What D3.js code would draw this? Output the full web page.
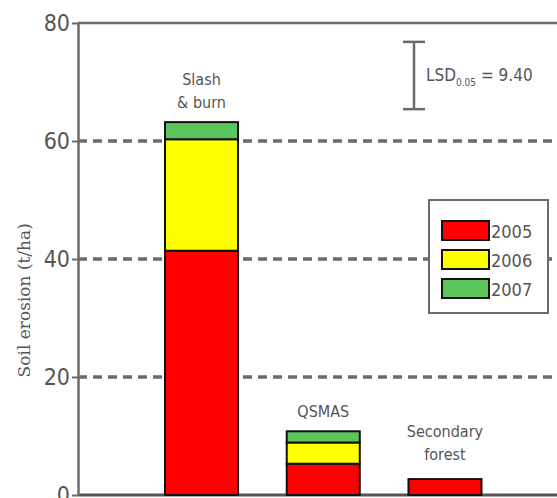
<!DOCTYPE html>
<html>
<head>
<meta charset="utf-8">
<script src="https://cdn.jsdelivr.net/npm/d3@7"></script>
<style>
  body { margin: 0; background: #fff; }
  svg { display: block; }
</style>
</head>
<body>
<div id="chart"></div>
<script>
// values
var systems = ["Slash & burn", "QSMAS", "Secondary forest"];
var years = ["2005", "2006", "2007"];
var erosion2005 = [41.4, 5.3, 2.7];
var erosion2006 = [18.9, 3.6, 0];
var erosion2007 = [2.9, 1.9, 0];
var yTicks = [0, 20, 40, 60, 80];
var lsd = 9.40;

var colors = ["#ff0000", "#ffff00", "#5cc65c"];
var narrow = '"DejaVu Sans Condensed", "Liberation Sans Narrow", sans-serif';

var width = 557, height = 498;
var margin = {top: 23, right: 0, bottom: 3, left: 78};

var svg = d3.select('#chart')
    .append('svg')
    .attr('width', width)
    .attr('height', height);

var x = d3.scaleBand()
    .domain(systems)
    .range([165, 481.5])
    .paddingInner(0.4)
    .paddingOuter(0);

var y = d3.scaleLinear()
    .domain([0, 80])
    .range([height - margin.bottom, margin.top]);

var rows = systems.map(function (s, i) {
    return {system: s, "2005": erosion2005[i], "2006": erosion2006[i], "2007": erosion2007[i]};
});
var stacked = d3.stack().keys(years)(rows);

// dashed grid lines
svg.append('g')
    .selectAll('line')
    .data([20, 40, 60])
    .enter()
    .append('line')
    .attr('x1', margin.left)
    .attr('x2', width)
    .attr('y1', function (d) { return y(d); })
    .attr('y2', function (d) { return y(d); })
    .attr('stroke', '#6b6b6b')
    .attr('stroke-width', 3.5)
    .attr('stroke-dasharray', '9,6');

// top frame line
svg.append('line')
    .attr('x1', margin.left).attr('x2', width)
    .attr('y1', y(80)).attr('y2', y(80))
    .attr('stroke', '#6b6b6b').attr('stroke-width', 2.5);

// bottom line
svg.append('line')
    .attr('x1', margin.left).attr('x2', width)
    .attr('y1', y(0)).attr('y2', y(0))
    .attr('stroke', '#555').attr('stroke-width', 3);

// y axis
var yAxis = svg.append('g')
    .attr('transform', 'translate(' + margin.left + ',0)')
    .call(d3.axisLeft(y).tickValues(yTicks).tickSize(6).tickSizeOuter(0));
yAxis.select('.domain').attr('stroke', '#6b6b6b').attr('stroke-width', 2.5);
yAxis.selectAll('.tick line').attr('stroke', '#6b6b6b').attr('stroke-width', 2);
yAxis.selectAll('.tick text')
    .attr('x', -8)
    .attr('fill', '#555')
    .style('font-family', narrow)
    .style('font-size', '23px');

svg.append('text')
    .attr('transform', 'translate(30,' + y(33) + ') rotate(-90)')
    .attr('text-anchor', 'middle')
    .attr('fill', '#555')
    .style('font-family', '"DejaVu Serif", serif')
    .style('font-size', '17px')
    .text('Soil erosion (t/ha)');

// stacked bars
svg.append('g')
    .selectAll('g')
    .data(stacked)
    .enter()
    .append('g')
    .attr('fill', function (d, i) { return colors[i]; })
    .selectAll('rect')
    .data(function (d) { return d.filter(function (p) { return p[1] > p[0]; }); })
    .enter()
    .append('rect')
    .attr('x', function (d) { return x(d.data.system); })
    .attr('width', x.bandwidth())
    .attr('y', function (d) { return y(d[1]); })
    .attr('height', function (d) { return y(d[0]) - y(d[1]); })
    .attr('stroke', '#111')
    .attr('stroke-width', 2);

// bar labels
var labelLines = [["Slash", "& burn"], ["QSMAS"], ["Secondary", "forest"]];
var totals = systems.map(function (s, i) { return erosion2005[i] + erosion2006[i] + erosion2007[i]; });
svg.append('g')
    .selectAll('text')
    .data(systems)
    .enter()
    .append('text')
    .attr('text-anchor', 'middle')
    .attr('fill', '#555')
    .style('font-family', narrow)
    .style('font-size', '16px')
    .each(function (s, i) {
        var lines = labelLines[i];
        var base = y(totals[i]) - 14 - (lines.length - 1) * 23;
        var t = d3.select(this);
        lines.forEach(function (l, j) {
            t.append('tspan')
                .attr('x', x(s) + x.bandwidth() / 2)
                .attr('y', base + j * 23 - (i === 2 ? 5 : 0))
                .text(l);
        });
    });

// LSD bar
var lsdX = 414, lsdTop = 76.8, lsdBot = 65.4;
var lsdG = svg.append('g').attr('stroke', '#6b6b6b').attr('stroke-width', 2.5);
lsdG.append('line').attr('x1', lsdX).attr('x2', lsdX).attr('y1', y(lsdTop)).attr('y2', y(lsdBot));
lsdG.append('line').attr('x1', lsdX - 11).attr('x2', lsdX + 11).attr('y1', y(lsdTop)).attr('y2', y(lsdTop));
lsdG.append('line').attr('x1', lsdX - 11).attr('x2', lsdX + 11).attr('y1', y(lsdBot)).attr('y2', y(lsdBot));

var lsdText = svg.append('text')
    .attr('x', 426)
    .attr('y', 81)
    .attr('fill', '#555')
    .style('font-family', narrow)
    .style('font-size', '17px');
lsdText.append('tspan').text('LSD');
lsdText.append('tspan').attr('dy', 5).style('font-size', '10px').text('0.05');
lsdText.append('tspan').attr('dy', -5).text(' = ' + lsd.toFixed(2));

// legend
var legend = svg.append('g').attr('transform', 'translate(429,200)');
legend.append('rect')
    .attr('width', 119).attr('height', 113)
    .attr('fill', '#fff')
    .attr('stroke', '#6b6b6b').attr('stroke-width', 2);
var item = legend.selectAll('g.item')
    .data(years)
    .enter()
    .append('g')
    .attr('class', 'item')
    .attr('transform', function (d, i) { return 'translate(13,' + (21 + i * 29) + ')'; });
item.append('rect')
    .attr('width', 47).attr('height', 19)
    .attr('fill', function (d, i) { return colors[i]; })
    .attr('stroke', '#111').attr('stroke-width', 2);
item.append('text')
    .attr('x', 49).attr('y', 17)
    .attr('fill', '#555')
    .style('font-family', narrow)
    .style('font-size', '18px')
    .text(function (d) { return d; });
</script>
</body>
</html>
